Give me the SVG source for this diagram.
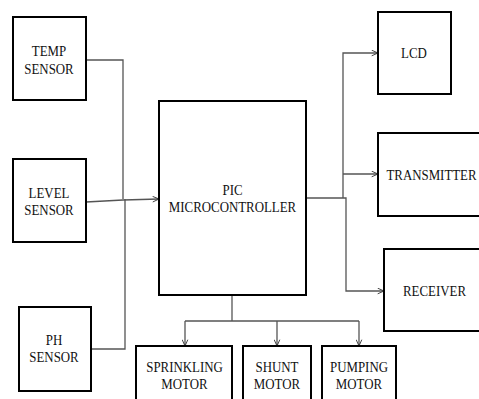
<svg xmlns="http://www.w3.org/2000/svg" width="479" height="399" viewBox="0 0 479 399">
<defs>
<marker id="ar" viewBox="0 0 10 10" refX="10" refY="5" markerWidth="7" markerHeight="7" orient="auto" markerUnits="userSpaceOnUse">
<path d="M1,1 L10,5 L1,9" fill="none" stroke="#333" stroke-width="1.3"/>
</marker>
<style>
.box{fill:#fff;stroke:#000;stroke-width:2}
.t{font-family:"Liberation Serif","Times New Roman",serif;font-size:15px;fill:#111;text-anchor:middle}
.c{fill:none;stroke:#555;stroke-width:1.3}
</style>
</defs>
<rect width="479" height="399" fill="#fff"/>
<g id="connectors">
<polyline class="c" points="86,60 123,60 123,199"/>
<polyline class="c" points="91,349 125,349 125,199"/>
<polyline class="c" points="86,202 123,200 159,199" marker-end="url(#ar)"/>
<polyline class="c" points="306,198 343,198"/>
<polyline class="c" points="343,198 343,53 378,53" marker-end="url(#ar)"/>
<polyline class="c" points="343,174 378,174" marker-end="url(#ar)"/>
<polyline class="c" points="343,198 346,198 346,291 384,291" marker-end="url(#ar)"/>
<polyline class="c" points="232,295 232,321"/>
<polyline class="c" points="185,321 359,321"/>
<polyline class="c" points="185,321 185,346" marker-end="url(#ar)"/>
<polyline class="c" points="277,321 277,346" marker-end="url(#ar)"/>
<polyline class="c" points="359,321 359,346" marker-end="url(#ar)"/>
</g>
<g id="temp"><rect class="box" x="13" y="17" width="73" height="83"/>
<g transform="translate(49,0) scale(0.86,1)"><text class="t" x="0" y="56.5">TEMP</text><text class="t" x="0" y="74">SENSOR</text></g></g>
<g id="level"><rect class="box" x="13" y="159" width="73" height="83"/>
<g transform="translate(49,0) scale(0.86,1)"><text class="t" x="0" y="198">LEVEL</text><text class="t" x="0" y="215">SENSOR</text></g></g>
<g id="ph"><rect class="box" x="19" y="307" width="72" height="84"/>
<g transform="translate(54,0) scale(0.86,1)"><text class="t" x="0" y="345">PH</text><text class="t" x="0" y="362">SENSOR</text></g></g>
<g id="pic"><rect class="box" x="159" y="101" width="147" height="194"/>
<g transform="translate(232.5,0) scale(0.86,1)"><text class="t" x="0" y="195">PIC</text><text class="t" x="0" y="212">MICROCONTROLLER</text></g></g>
<g id="lcd"><rect class="box" x="378" y="12" width="73" height="82"/>
<g transform="translate(414,0) scale(0.86,1)"><text class="t" x="0" y="58">LCD</text></g></g>
<g id="transmitter"><rect class="box" x="378" y="133" width="106" height="83"/>
<g transform="translate(431.5,0) scale(0.86,1)"><text class="t" x="0" y="180">TRANSMITTER</text></g></g>
<g id="receiver"><rect class="box" x="384" y="249" width="100" height="82"/>
<g transform="translate(434.5,0) scale(0.86,1)"><text class="t" x="0" y="296">RECEIVER</text></g></g>
<g id="sprinkling"><rect class="box" x="136" y="346" width="96" height="60"/>
<g transform="translate(184.5,0) scale(0.86,1)"><text class="t" x="0" y="372">SPRINKLING</text><text class="t" x="0" y="389">MOTOR</text></g></g>
<g id="shunt"><rect class="box" x="243" y="346" width="68" height="60"/>
<g transform="translate(277,0) scale(0.86,1)"><text class="t" x="0" y="372">SHUNT</text><text class="t" x="0" y="389">MOTOR</text></g></g>
<g id="pumping"><rect class="box" x="322" y="346" width="74" height="60"/>
<g transform="translate(359,0) scale(0.86,1)"><text class="t" x="0" y="372">PUMPING</text><text class="t" x="0" y="389">MOTOR</text></g></g>
</svg>
